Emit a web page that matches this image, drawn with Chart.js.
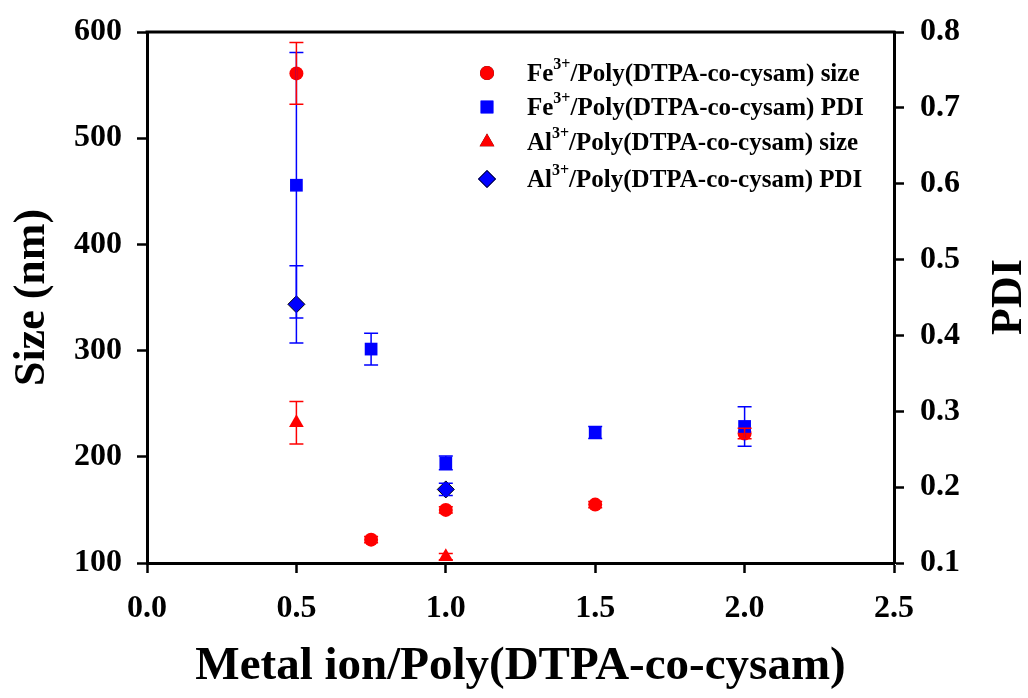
<!DOCTYPE html>
<html>
<head>
<meta charset="utf-8">
<title>Size and PDI vs metal ion ratio</title>
<script src="https://cdn.jsdelivr.net/npm/chart.js@4.4.0/dist/chart.umd.min.js"></script>
<style>
  html, body { margin: 0; padding: 0; background: #fff; }
  #wrap { width: 1028px; height: 698px; }
</style>
</head>
<body>
<div id="wrap"><canvas id="sizeChart"></canvas></div>
<script>
// ratios of metal ion to polymer
var ratioFe = [0.5, 0.75, 1.0, 1.5, 2.0];
var ratioAl = [0.5, 1.0];

// Fe3+ series
var feSize = [561, 122, 150, 155, 222];
var feSizeErr = [29, 3, 3, 3, 5];
var fePdi = [0.598, 0.382, 0.232, 0.272, 0.280];
var fePdiErr = [0.175, 0.021, 0.009, 0.008, 0.026];

// Al3+ series
var alSize = [232, 106];
var alSizeErr = [20, 3];
var alPdi = [0.441, 0.197];
var alPdiErr = [0.051, 0.008];

// legend texts (base, superscript, rest), in legend order
var legendItems = [
  ['Fe', '3+', '/Poly(DTPA-co-cysam) size'],
  ['Fe', '3+', '/Poly(DTPA-co-cysam) PDI'],
  ['Al', '3+', '/Poly(DTPA-co-cysam) size'],
  ['Al', '3+', '/Poly(DTPA-co-cysam) PDI']
];

var xTitle = 'Metal ion/Poly(DTPA-co-cysam)';
var yTitle = 'Size (nm)';
var y2Title = 'PDI';

var FONT = '"Liberation Serif", "Times New Roman", serif';

function toPoints(xs, ys) {
  var out = [];
  for (var i = 0; i < xs.length; i++) {
    out.push({ x: xs[i], y: ys[i] });
  }
  return out;
}

// error bars, drawn through the dataset's own y scale
var errorBarPlugin = {
  id: 'errorBars',
  afterDatasetsDraw: function (chart) {
    var ctx = chart.ctx;
    chart.data.datasets.forEach(function (ds, i) {
      if (!ds.errors) return;
      var meta = chart.getDatasetMeta(i);
      var scale = chart.scales[ds.yAxisID];
      ctx.save();
      ctx.strokeStyle = ds.errorColor;
      ctx.lineWidth = 1.5;
      meta.data.forEach(function (pt, j) {
        var v = ds.data[j].y;
        var e = ds.errors[j];
        var yTop = scale.getPixelForValue(v + e);
        var yBot = scale.getPixelForValue(v - e);
        var x = pt.x;
        ctx.beginPath();
        ctx.moveTo(x, yTop); ctx.lineTo(x, yBot);
        ctx.moveTo(x - 7, yTop); ctx.lineTo(x + 7, yTop);
        ctx.moveTo(x - 7, yBot); ctx.lineTo(x + 7, yBot);
        ctx.stroke();
      });
      ctx.restore();
    });
  }
};

// top frame line, right axis title and the in-plot legend
var decorPlugin = {
  id: 'decor',
  afterDraw: function (chart) {
    var ctx = chart.ctx;
    var area = chart.chartArea;
    ctx.save();
    ctx.strokeStyle = '#000';
    ctx.lineWidth = 3;
    ctx.beginPath();
    ctx.moveTo(area.left - 1.5, area.top);
    ctx.lineTo(area.right + 1.5, area.top);
    ctx.stroke();

    // PDI title, reading bottom to top
    ctx.fillStyle = '#000';
    ctx.font = 'bold 44px ' + FONT;
    ctx.textAlign = 'center';
    ctx.textBaseline = 'middle';
    ctx.translate(1010, 297);
    ctx.rotate(-Math.PI / 2);
    ctx.fillText(y2Title, 0, 0);
    ctx.restore();

    // legend
    ctx.save();
    var rowY = [73, 107, 142, 179];
    chart.data.datasets.forEach(function (ds) {
      var row = ds.legendRow;
      var y = rowY[row];
      Chart.helpers.drawPoint(ctx, {
        pointStyle: ds.pointStyle,
        radius: ds.pointRadius,
        rotation: 0,
        borderWidth: ds.borderWidth
      }, 487, y);
      ctx.fillStyle = ds.backgroundColor;
      ctx.strokeStyle = ds.borderColor;
      ctx.lineWidth = ds.borderWidth;
      ctx.fill();
      if (ds.borderWidth > 0) ctx.stroke();

      var item = legendItems[row];
      var x = 527;
      ctx.fillStyle = '#000';
      ctx.textAlign = 'left';
      ctx.textBaseline = 'middle';
      ctx.font = 'bold 25px ' + FONT;
      ctx.fillText(item[0], x, y + 2);
      x += ctx.measureText(item[0]).width;
      ctx.font = 'bold 16px ' + FONT;
      ctx.fillText(item[1], x, y - 8);
      x += ctx.measureText(item[1]).width;
      ctx.font = 'bold 25px ' + FONT;
      ctx.fillText(item[2], x, y + 2);
    });
    ctx.restore();
  }
};

var tickFont = { family: FONT, size: 32, weight: 'bold', lineHeight: 1 };
var titleFont = { family: FONT, size: 47, weight: 'bold' };

var ctx = document.getElementById('sizeChart').getContext('2d');

var sizeChart = new Chart(ctx, {
  type: 'scatter',
  data: {
    datasets: [
      {
        label: 'Fe3+/Poly(DTPA-co-cysam) PDI',
        legendRow: 1,
        data: toPoints(ratioFe, fePdi),
        errors: fePdiErr,
        errorColor: '#0000ff',
        yAxisID: 'y2',
        pointStyle: 'rect',
        pointRadius: 9,
        backgroundColor: '#0000ff',
        borderColor: '#0000ff',
        borderWidth: 0
      },
      {
        label: 'Al3+/Poly(DTPA-co-cysam) PDI',
        legendRow: 3,
        data: toPoints(ratioAl, alPdi),
        errors: alPdiErr,
        errorColor: '#0000ff',
        yAxisID: 'y2',
        pointStyle: 'rectRot',
        pointRadius: 8.5,
        backgroundColor: '#0000ff',
        borderColor: '#000000',
        borderWidth: 1
      },
      {
        label: 'Fe3+/Poly(DTPA-co-cysam) size',
        legendRow: 0,
        data: toPoints(ratioFe, feSize),
        errors: feSizeErr,
        errorColor: '#ff0000',
        yAxisID: 'y',
        pointStyle: 'circle',
        pointRadius: 7,
        backgroundColor: '#ff0000',
        borderColor: '#ff0000',
        borderWidth: 0
      },
      {
        label: 'Al3+/Poly(DTPA-co-cysam) size',
        legendRow: 2,
        data: toPoints(ratioAl, alSize),
        errors: alSizeErr,
        errorColor: '#ff0000',
        yAxisID: 'y',
        pointStyle: 'triangle',
        pointRadius: 8.5,
        backgroundColor: '#ff0000',
        borderColor: '#ff0000',
        borderWidth: 0
      }
    ]
  },
  options: {
    responsive: true,
    maintainAspectRatio: false,
    animation: false,
    clip: false,
    layout: { padding: { top: 30, left: 0, right: 0, bottom: 0 } },
    plugins: {
      legend: { display: false },
      tooltip: { enabled: false }
    },
    scales: {
      x: {
        type: 'linear',
        position: 'bottom',
        min: 0,
        max: 2.5,
        afterFit: function (scale) { scale.height = 135; },
        border: { color: '#000', width: 3 },
        grid: { drawOnChartArea: false, tickLength: 10, tickWidth: 2.5, tickColor: '#000' },
        ticks: {
          stepSize: 0.5,
          color: '#000',
          font: tickFont,
          padding: 20,
          callback: function (v) { return v.toFixed(1); }
        },
        title: { display: true, text: xTitle, color: '#000', font: titleFont, padding: 3 }
      },
      y: {
        type: 'linear',
        position: 'left',
        min: 100,
        max: 600,
        afterFit: function (scale) { scale.width = 147; },
        border: { color: '#000', width: 3 },
        grid: { drawOnChartArea: false, tickLength: 10, tickWidth: 2.5, tickColor: '#000' },
        ticks: { stepSize: 100, color: '#000', font: tickFont, padding: 15 },
        title: { display: true, text: yTitle, color: '#000', font: { family: FONT, size: 44, weight: 'bold' }, padding: 6 }
      },
      y2: {
        type: 'linear',
        position: 'right',
        min: 0.1,
        max: 0.8,
        afterFit: function (scale) { scale.width = 134; },
        border: { color: '#000', width: 3 },
        grid: { drawOnChartArea: false, tickLength: 10, tickWidth: 2.5, tickColor: '#000' },
        ticks: {
          stepSize: 0.1,
          color: '#000',
          font: tickFont,
          padding: 16,
          callback: function (v) { return v.toFixed(1); }
        }
      }
    }
  },
  plugins: [errorBarPlugin, decorPlugin]
});
</script>
</body>
</html>
